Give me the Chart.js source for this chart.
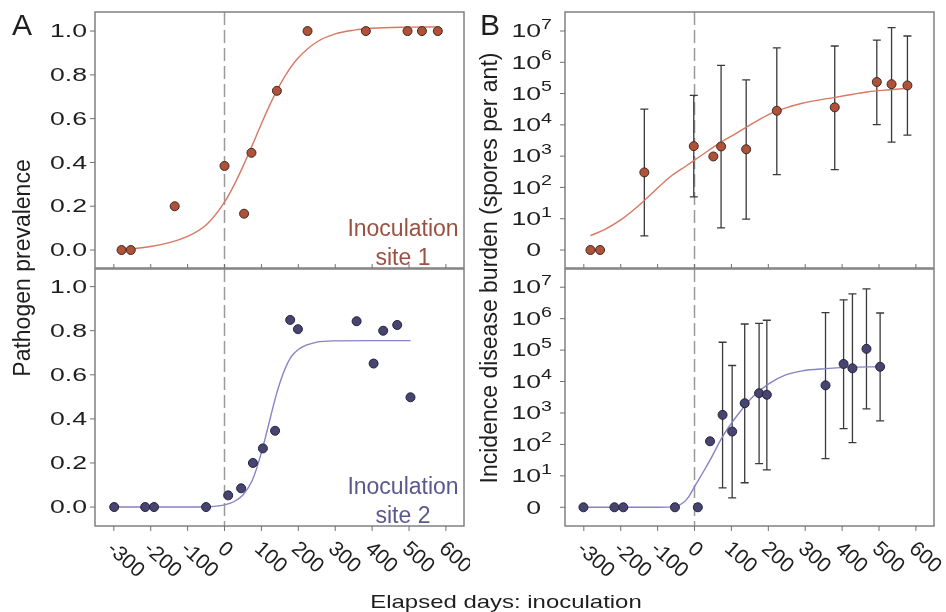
<!DOCTYPE html>
<html>
<head>
<meta charset="utf-8">
<script src="https://cdn.jsdelivr.net/npm/chart.js@4.4.0/dist/chart.umd.min.js"></script>
<style>
  body { margin: 0; background: #fff; width: 946px; height: 612px; overflow: hidden; position: relative;
         font-family: "Liberation Sans", Arial, sans-serif; color: #1e1e1e; }
  canvas { position: absolute; }
  .lbl { position: absolute; white-space: nowrap; line-height: 1; }
  .ytitle { font-size: 23px; transform: translate(-50%, -50%) rotate(-90deg); }
  .note { font-size: 23px; text-align: center; line-height: 29px; transform: translate(-50%, -50%); }
</style>
</head>
<body>
<canvas id="tl" width="470" height="290" style="left:0;top:0"></canvas>
<canvas id="bl" width="470" height="352" style="left:0;top:260px"></canvas>
<canvas id="tr" width="476" height="290" style="left:470px;top:0"></canvas>
<canvas id="br" width="476" height="352" style="left:470px;top:260px"></canvas>

<div class="lbl" style="left:12px;top:10px;font-size:30px">A</div>
<div class="lbl" style="left:480px;top:10px;font-size:30px">B</div>
<div class="lbl ytitle" style="left:22px;top:268px">Pathogen prevalence</div>
<div class="lbl ytitle" style="left:489px;top:268px">Incidence disease burden (spores per ant)</div>
<div class="lbl" style="left:506px;top:601px;font-size:19px;transform:translate(-50%,-50%) scaleX(1.26)">Elapsed days: inoculation</div>
<div class="lbl note" style="left:403px;top:243px;color:#9b5142">Inoculation<br>site 1</div>
<div class="lbl note" style="left:403px;top:501px;color:#5b5890">Inoculation<br>site 2</div>

<script>
// x axis (days since inoculation)
const xTicks = [-300, -200, -100, 0, 100, 200, 300, 400, 500, 600];
const yTicksPrev = [0, 0.2, 0.4, 0.6, 0.8, 1.0];
const yTicksBurden = [0, 1, 2, 3, 4, 5, 6, 7]; // log10 spores, 0 shown as "0"

// A, site 1: prevalence
const daysA1 = [-279, -254, -135, 0, 53, 73, 142, 225, 383, 496, 535, 578];
const prevA1 = [0, 0, 0.20, 0.384, 0.166, 0.444, 0.727, 1.0, 1.0, 1.0, 1.0, 1.0];
const fitDaysA1 = [-279, -250, -200, -150, -100, -50, 0, 25, 50, 75, 100, 125, 150, 175, 200, 250, 300, 350, 400, 500, 578];
const fitA1 = [0.004, 0.006, 0.016, 0.034, 0.062, 0.114, 0.219, 0.294, 0.382, 0.478, 0.577, 0.671, 0.754, 0.824, 0.878, 0.950, 0.987, 1.004, 1.013, 1.018, 1.019];

// A, site 2: prevalence
const daysA2 = [-299, -215, -191, -50, 10, 45, 77, 104, 137, 178, 199, 358, 404, 430, 468, 504];
const prevA2 = [0, 0, 0, 0, 0.053, 0.085, 0.200, 0.266, 0.346, 0.849, 0.807, 0.843, 0.651, 0.800, 0.826, 0.498];
const fitDaysA2 = [-299, -200, -100, -50, 0, 25, 50, 75, 100, 115, 125, 140, 160, 180, 200, 250, 300, 400, 504];
const fitA2 = [0, 0, 0, 0.001, 0.010, 0.024, 0.055, 0.120, 0.247, 0.344, 0.411, 0.508, 0.610, 0.680, 0.715, 0.748, 0.754, 0.755, 0.755];

// B, site 1: burden (log10), with error bars
const daysB1 = [-282, -256, -136, -2, 51, 72, 140, 223, 380, 494, 534, 577];
const burdenB1 = [0, 0, 2.48, 3.32, 2.99, 3.31, 3.22, 4.45, 4.56, 5.37, 5.30, 5.26];
const errHiB1 = [null, null, 4.50, 4.94, null, 5.90, 5.44, 6.46, 6.52, 6.71, 7.11, 6.84];
const errLoB1 = [null, null, 0.45, 1.70, null, 0.71, 0.99, 2.41, 2.57, 4.01, 3.45, 3.67];
const fitDaysB1 = [-282, -244, -199, -154, -110, -65, -21, 24, 72, 113, 160, 203, 250, 292, 340, 381, 430, 471, 530, 577];
const fitB1 = [0.46, 0.65, 0.97, 1.39, 1.87, 2.35, 2.70, 3.07, 3.45, 3.73, 4.06, 4.34, 4.55, 4.69, 4.80, 4.88, 4.98, 5.06, 5.12, 5.17];

// B, site 2: burden (log10), with error bars
const daysB2 = [-301, -217, -193, -53, 9, 42, 76, 102, 136, 175, 196, 355, 404, 428, 466, 503];
const burdenB2 = [0, 0, 0, 0, 0, 2.10, 2.94, 2.41, 3.31, 3.63, 3.58, 3.88, 4.56, 4.42, 5.04, 4.47];
const errHiB2 = [null, null, null, null, null, null, 5.25, 4.51, 5.83, 5.85, 5.95, 6.19, 6.60, 6.79, 6.95, 6.18];
const errLoB2 = [null, null, null, null, null, null, 0.62, 0.30, 0.78, 1.39, 1.19, 1.55, 2.50, 2.06, 3.13, 2.75];
const fitDaysB2 = [-301, -200, -100, -53, -30, -15, 0, 24, 42, 76, 113, 158, 203, 247, 292, 355, 430, 503];
const fitB2 = [0, 0, 0, 0.02, 0.15, 0.35, 0.66, 1.13, 1.50, 2.25, 2.88, 3.52, 3.94, 4.21, 4.34, 4.41, 4.46, 4.47];

const FONT = '"Liberation Sans", Arial, sans-serif';
const site1 = { fill: '#b0513a', edge: '#3d2a22', line: '#d77862' };
const site2 = { fill: '#47446f', edge: '#25233d', line: '#8683c4' };

function pts(xs, ys) { return xs.map((x, i) => ({ x: x, y: ys[i] })); }

// draws box, zero line, ticks, tick labels and error bars for one panel
function deco(cfg) {
  return {
    id: 'deco',
    beforeDatasetsDraw(chart) {
      const { ctx, chartArea: a, scales: { x, y } } = chart;
      ctx.save();
      const x0 = x.getPixelForValue(0);
      ctx.strokeStyle = '#9a9a9a';
      ctx.lineWidth = 1.5;
      ctx.setLineDash([13, 5]);
      ctx.beginPath(); ctx.moveTo(x0, a.top); ctx.lineTo(x0, a.bottom); ctx.stroke();
      ctx.setLineDash([]);
      if (cfg.errHi) {
        ctx.strokeStyle = '#3a3a3a';
        ctx.lineWidth = 1.3;
        cfg.errX.forEach((d, i) => {
          if (cfg.errHi[i] == null) return;
          const px = x.getPixelForValue(d);
          const hi = y.getPixelForValue(cfg.errHi[i]);
          const lo = y.getPixelForValue(cfg.errLo[i]);
          ctx.beginPath();
          ctx.moveTo(px, hi); ctx.lineTo(px, lo);
          ctx.moveTo(px - 4, hi); ctx.lineTo(px + 4, hi);
          ctx.moveTo(px - 4, lo); ctx.lineTo(px + 4, lo);
          ctx.stroke();
        });
      }
      ctx.restore();
    },
    afterDraw(chart) {
      const { ctx, chartArea: a, scales: { x, y } } = chart;
      ctx.save();
      ctx.strokeStyle = '#808080';
      ctx.lineWidth = 1.5;
      ctx.strokeRect(a.left, a.top, a.right - a.left, a.bottom - a.top);

      // x tick marks: inside on the upper panels, outside on the lower ones
      ctx.lineWidth = 1;
      ctx.strokeStyle = '#707070';
      xTicks.forEach(v => {
        const px = x.getPixelForValue(v);
        ctx.beginPath();
        ctx.moveTo(px, a.bottom);
        ctx.lineTo(px, cfg.bottom ? a.bottom + 5 : a.bottom - 4);
        ctx.stroke();
      });

      // y ticks + labels
      ctx.fillStyle = '#1e1e1e';
      ctx.textBaseline = 'middle';
      cfg.yTicks.forEach(v => {
        const py = y.getPixelForValue(v);
        ctx.beginPath(); ctx.moveTo(a.left - 5, py); ctx.lineTo(a.left, py); ctx.stroke();
        ctx.save();
        ctx.translate(a.left - cfg.gap, py + 1);
        ctx.scale(1.4, 1);
        ctx.textAlign = 'right';
        if (cfg.log) {
          ctx.font = '14px ' + FONT;
          const ew = ctx.measureText('7').width;
          if (v > 0) ctx.fillText(String(v), 0, -7);
          ctx.font = '19px ' + FONT;
          ctx.fillText(v > 0 ? '10' : '0', -ew, 0);
        } else {
          ctx.font = '19px ' + FONT;
          ctx.fillText(v.toFixed(1), 0, 0);
        }
        ctx.restore();
      });

      // rotated day labels under the lower panels
      if (cfg.bottom) {
        ctx.font = '21px ' + FONT;
        ctx.textAlign = 'left';
        xTicks.forEach(v => {
          const px = x.getPixelForValue(v);
          ctx.save();
          ctx.translate(px - 4, a.bottom + 20);
          ctx.rotate(42 * Math.PI / 180);
          ctx.fillText(String(v), 0, 0);
          ctx.restore();
        });
      }
      ctx.restore();
    }
  };
}

function panel(id, pad, yMin, yMax, col, dx, dy, fx, fy, cfg) {
  new Chart(document.getElementById(id), {
    type: 'scatter',
    data: {
      datasets: [
        { data: pts(dx, dy), backgroundColor: col.fill, borderColor: col.edge, borderWidth: 1,
          pointRadius: 4.5, order: 1 },
        { data: pts(fx, fy), showLine: true, borderColor: col.line, borderWidth: 1.4, pointRadius: 0,
          cubicInterpolationMode: 'monotone', fill: false, order: 2 }
      ]
    },
    options: {
      responsive: false,
      animation: false,
      events: [],
      layout: { padding: pad },
      plugins: { legend: { display: false }, tooltip: { enabled: false } },
      scales: {
        x: { type: 'linear', min: -351, max: 649, display: false },
        y: { type: 'linear', min: yMin, max: yMax, display: false }
      }
    },
    plugins: [deco(cfg)]
  });
}

panel('tl', { left: 95, top: 12, right: 6, bottom: 22 }, -0.082, 1.087, site1,
  daysA1, prevA1, fitDaysA1, fitA1, { yTicks: yTicksPrev, gap: 8, bottom: false });
panel('bl', { left: 95, top: 9, right: 6, bottom: 86 }, -0.086, 1.080, site2,
  daysA2, prevA2, fitDaysA2, fitA2, { yTicks: yTicksPrev, gap: 8, bottom: true });
panel('tr', { left: 95, top: 12, right: 12, bottom: 22 }, -0.575, 7.607, site1,
  daysB1, burdenB1, fitDaysB1, fitB1,
  { yTicks: yTicksBurden, gap: 13, log: true, bottom: false, errX: daysB1, errHi: errHiB1, errLo: errLoB1 });
panel('br', { left: 95, top: 9, right: 12, bottom: 86 }, -0.595, 7.58, site2,
  daysB2, burdenB2, fitDaysB2, fitB2,
  { yTicks: yTicksBurden, gap: 13, log: true, bottom: true, errX: daysB2, errHi: errHiB2, errLo: errLoB2 });
</script>
</body>
</html>
